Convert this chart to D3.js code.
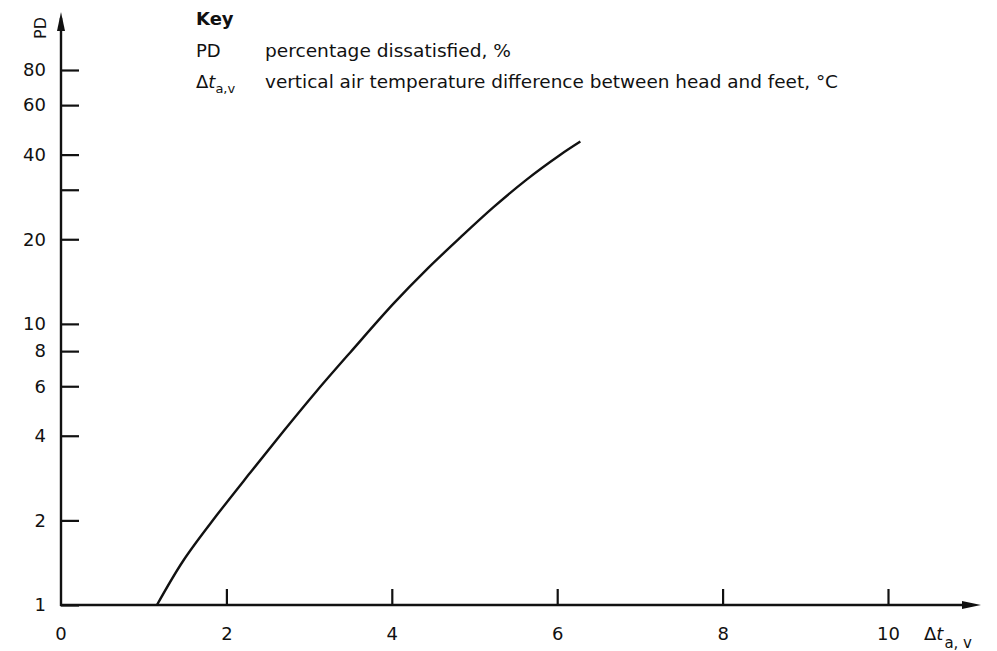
<!DOCTYPE html>
<html>
<head>
<meta charset="utf-8">
<script src="https://cdn.jsdelivr.net/npm/d3@7"></script>
<style>
  body { margin: 0; background: #fff; }
  svg { display: block; font-family: "DejaVu Sans", "Liberation Sans", sans-serif; }
  .tick text { font-size: 18px; fill: #111; font-family: "DejaVu Sans", sans-serif; }
  .key { font-size: 18px; fill: #111; }
</style>
</head>
<body>
<svg width="997" height="651"></svg>
<script>
// values
const dtValues = [1.16, 1.48, 1.88, 2.29, 2.69, 3.09, 3.50, 4.02, 4.42, 4.83, 5.23, 5.63, 6.03, 6.28];
const pdValues = [1.0, 1.44, 2.08, 2.96, 4.15, 5.76, 7.93, 11.8, 15.6, 20.3, 26.0, 32.6, 39.8, 44.5];
const xTicks = [0, 2, 4, 6, 8, 10];
const yTicks = [1, 2, 4, 6, 8, 10, 20, 30, 40, 60, 80];
const yLabels = [1, 2, 4, 6, 8, 10, 20, 40, 60, 80];

const svg = d3.select("svg");
const x = d3.scaleLinear().domain([0, 10]).range([61, 888]);
const y = d3.scaleLog().domain([1, 80]).range([605, 70]);

// y axis, ticks pointing inward
svg.append("g")
  .attr("transform", "translate(61,0)")
  .call(d3.axisLeft(y).tickValues(yTicks).tickSizeInner(-18).tickSizeOuter(0).tickPadding(15)
    .tickFormat(d => yLabels.includes(d) ? d : ""))
  .call(g => g.select(".domain").remove())
  .call(g => g.selectAll(".tick line").attr("stroke", "#111").attr("stroke-width", 2.2));

// x axis
svg.append("g")
  .attr("transform", "translate(0,605)")
  .call(d3.axisBottom(x).tickValues(xTicks.filter(d => d > 0)).tickSizeInner(-16).tickSizeOuter(0).tickPadding(22))
  .call(g => g.select(".domain").remove())
  .call(g => g.selectAll(".tick line").attr("stroke", "#111").attr("stroke-width", 2.2));
svg.append("text").attr("x", x(0)).attr("y", 640).attr("text-anchor", "middle")
  .style("font-size", "18px").attr("fill", "#111").text("0");

// axis lines with arrows
svg.append("line").attr("x1", 61).attr("y1", 606).attr("x2", 61).attr("y2", 18)
  .attr("stroke", "#111").attr("stroke-width", 2.4);
svg.append("path").attr("d", "M61,12 L65,31 L57,31 Z").attr("fill", "#111");
svg.append("line").attr("x1", 60).attr("y1", 605).attr("x2", 972).attr("y2", 605)
  .attr("stroke", "#111").attr("stroke-width", 2.4);
svg.append("path").attr("d", "M981,605 L962,601 L962,609 Z").attr("fill", "#111");

// axis labels
svg.append("text").attr("transform", "translate(46,28) rotate(-90)").attr("text-anchor", "middle")
  .style("font-size", "16px").attr("fill", "#111").text("PD");
const xl = svg.append("text").attr("x", 924).attr("y", 640).style("font-size", "18px").attr("fill", "#111");
xl.append("tspan").text("Δ");
xl.append("tspan").style("font-style", "italic").text("t");
xl.append("tspan").attr("dx", 1).attr("dy", 8).style("font-size", "15px").text("a, v");

// curve
const line = d3.line().x((d, i) => x(dtValues[i])).y(d => y(d)).curve(d3.curveCatmullRom);
svg.append("path").datum(pdValues).attr("d", line)
  .attr("fill", "none").attr("stroke", "#111").attr("stroke-width", 2.4);

// key
svg.append("text").attr("class", "key").attr("x", 196).attr("y", 25).style("font-weight", "bold").text("Key");
svg.append("text").attr("class", "key").attr("x", 196).attr("y", 57).text("PD");
svg.append("text").attr("class", "key").attr("x", 265).attr("y", 57)
  .attr("textLength", 246).attr("lengthAdjust", "spacingAndGlyphs").text("percentage dissatisfied, %");
const k2 = svg.append("text").attr("class", "key").attr("x", 196).attr("y", 88);
k2.append("tspan").text("Δ");
k2.append("tspan").style("font-style", "italic").text("t");
k2.append("tspan").attr("dy", 5).style("font-size", "13px").text("a,v");
svg.append("text").attr("class", "key").attr("x", 265).attr("y", 88)
  .attr("textLength", 573).attr("lengthAdjust", "spacingAndGlyphs")
  .text("vertical air temperature difference between head and feet, °C");
</script>
</body>
</html>
